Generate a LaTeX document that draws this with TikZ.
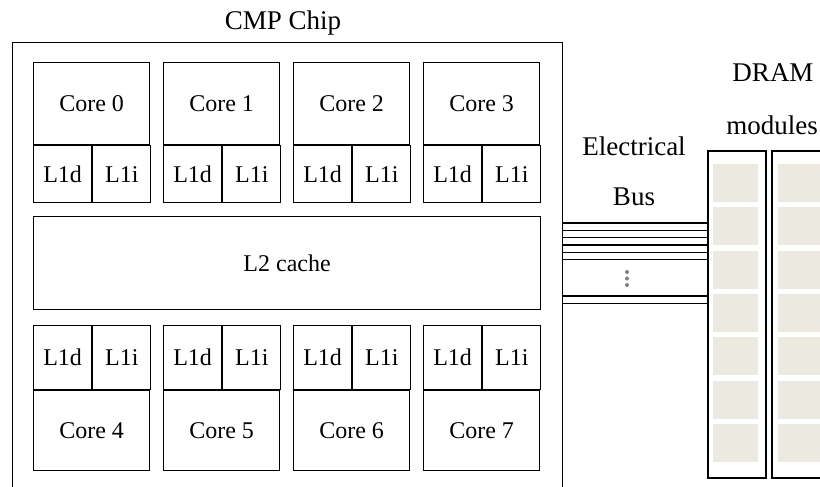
\documentclass[tikz,border=0pt]{standalone}
\usepackage{fontspec}
\setmainfont{Liberation Serif}
\usepackage{xcolor}
\usepackage{tikz}

\definecolor{chipfill}{RGB}{236,233,224}
\tikzset{
  blk/.style={draw, line width=1.2pt, inner sep=0pt, anchor=north west},
  lbl/.style={font=\fontsize{24}{28}\selectfont},
  biglbl/.style={font=\fontsize{27}{32}\selectfont},
  bus/.style={line width=1.2pt},
  module/.style={draw, line width=2pt, inner sep=0pt, anchor=north west, minimum height=327pt},
}

\begin{document}
\begin{tikzpicture}[x=1pt,y=-1pt]
\useasboundingbox (0,0) rectangle (820,487);
% chip outline runs off the bottom of the page
\node[blk, minimum width=550pt, minimum height=480pt] (chip) at (12,42) {};
\node[biglbl] (chiplbl) at (283,23) {CMP Chip};
\foreach \i/\n in {0/0,1/1,2/2,3/3}{
  \node[blk, lbl, minimum width=116pt, minimum height=82pt] (core\n) at ({33+130*\i},62) {Core \n};
  \node[blk, lbl, minimum width=58pt, minimum height=57pt] (l1d\n) at (core\n.south west) {L1d};
  \node[blk, lbl, minimum width=58pt, minimum height=57pt] (l1i\n) at (l1d\n.north east) {L1i};}
\node[blk, lbl, minimum width=507pt, minimum height=93pt] (l2) at (33,216) {L2 cache};
\foreach \i/\n in {0/4,1/5,2/6,3/7}{
  \node[blk, lbl, minimum width=58pt, minimum height=64pt] (l1d\n) at ({33+130*\i},325) {L1d};
  \node[blk, lbl, minimum width=58pt, minimum height=64pt] (l1i\n) at (l1d\n.north east) {L1i};
  \node[blk, lbl, minimum width=116pt, minimum height=80pt] (core\n) at (l1d\n.south west) {Core \n};}
% DRAM modules, the second one runs off the right edge
\node[module, minimum width=58pt] (dram0) at (707,150) {};
\node[module, minimum width=70pt] (dram1) at (771,150) {};
\foreach \k in {0,...,6}{
  \fill[chipfill] (713,{164+43.3*\k}) rectangle +(45,38);
  \fill[chipfill] (778,{164+43.3*\k}) rectangle +(45,38);}
\node[biglbl] (dramlbl) at (773,73) {DRAM};
\node[biglbl] (modlbl) at (772,125) {modules};
% electrical bus
\node[biglbl] (buslbl) at (634,146) {Electrical};
\node[biglbl] (buslbl2) at (634,197) {Bus};
\foreach \y in {223,230.3,237.6,244.9,252.2,259.5,296,303.3}{
  \draw[bus] (chip.east |- 0,\y) -- (dram0.west |- 0,\y);}
\foreach \y in {272,278.5,285}{
  \fill[gray] (627,\y) circle (2);}
\end{tikzpicture}
\end{document}
